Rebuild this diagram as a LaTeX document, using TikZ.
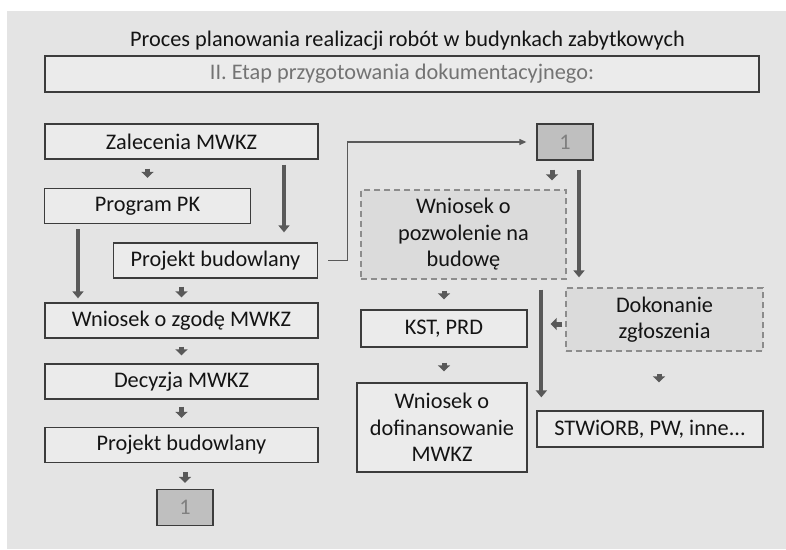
\documentclass[tikz,border=0pt]{standalone}
\usepackage{fontspec}
\setmainfont{Carlito}
\usetikzlibrary{arrows.meta,calc}
\definecolor{tlo}{HTML}{E4E4E4}
\definecolor{ramka}{HTML}{3C3C3C}
\definecolor{strzalka}{HTML}{595959}
\definecolor{przerywana}{HTML}{8C8C8C}
\begin{document}
\begin{tikzpicture}[x=1pt, y=-1pt,
    every node/.style={font=\fontsize{22.3}{26.5}\selectfont, text=black!92, align=center, inner sep=0pt},
    pole/.style={draw=ramka, line width=1.3pt, fill=tlo!75!white, minimum height=35pt},
    opcja/.style={draw=przerywana, dashed, dash pattern=on 6pt off 4pt, line width=1.3pt, fill=black!14},
    numer/.style={draw=ramka, line width=1.3pt, fill=black!25, text=black!50, minimum width=56pt, minimum height=36pt},
    krok/.style={strzalka, line width=5pt, -{Triangle[length=6pt,width=12pt]}, shorten <=8pt, shorten >=8pt},
    dluga/.style={strzalka, line width=4pt, -{Triangle[length=7pt,width=11pt]}},
    cienka/.style={strzalka, line width=1.2pt, -{Triangle[length=7pt,width=6pt]}}]
    \fill[white] (0,0) rectangle (786,549);
    \fill[tlo] (7,11) rectangle (786,549);
    \useasboundingbox (0,0) rectangle (786,549);
    \node[anchor=base] (tyt) at (407.5,46) {Proces planowania realizacji robót w budynkach zabytkowych};
    \node[pole, minimum width=714pt, minimum height=36pt, text=black!55] (etap) at (402,74) {II. Etap przygotowania dokumentacyjnego:};
    \node[pole, minimum width=273pt] (zal) at (181.5,141.5)          {Zalecenia MWKZ};
    \node[pole, minimum width=206pt] (prog) at ([shift={(-34,64.5)}] zal) {Program PK};
    \node[pole, minimum width=204pt] (pb1) at ([shift={(34,119)}] zal)   {Projekt budowlany};
    \node[pole, minimum width=273pt] (wzg) at ([shift={(0,179)}] zal)    {Wniosek o zgodę MWKZ};
    \node[pole, minimum width=273pt] (dec) at ([shift={(0,61)}] wzg)     {Decyzja MWKZ};
    \node[pole, minimum width=273pt] (pb2) at ([shift={(0,63.5)}] dec)   {Projekt budowlany};
    \node[numer] (jed1) at ([shift={(3.5,62.5)}] pb2) {1};
    \node[numer] (jed2) at (565,142) {1};
    \node[opcja, minimum width=205pt, minimum height=89pt] (wnp) at ([shift={(-101.5,92.5)}] jed2) {Wniosek o\\pozwolenie na\\budowę};
    \node[opcja, minimum width=197pt, minimum height=63pt] (dok) at ([shift={(99.5,177.5)}] jed2)  {Dokonanie\\zgłoszenia};
    \node[pole, minimum width=166pt, minimum height=37pt] (kst) at ([shift={(-19.5,94)}] wnp)      {KST, PRD};
    \node[pole, minimum width=170pt, minimum height=89pt] (wdf) at ([shift={(-2,99)}] kst)         {Wniosek o\\dofinansowanie\\MWKZ};
    \node[pole, minimum width=226pt, minimum height=36pt] (stw) at ([shift={(-14.5,109.5)}] dok)   {STWiORB, PW, inne...};
    \draw[krok, shorten <=9pt, shorten >=10pt] (prog.north |- zal.south) -- (prog.north);
    \draw[dluga, shorten <=5pt, shorten >=10pt] ([xshift=68.5pt]pb1.north |- zal.south) -- ([xshift=68.5pt]pb1.north);
    \draw[dluga, shorten <=5pt, shorten >=4pt] ([xshift=-69.5pt]prog.south) -- ([xshift=-69.5pt]prog.south |- wzg.north);
    \draw[krok, shorten >=5pt] (wzg.north |- pb1.south) -- (wzg.north);
    \draw[krok] (wzg.south) -- (dec.north);
    \draw[krok, shorten <=7pt, shorten >=9pt] (dec.south) -- (pb2.north);
    \draw[krok, shorten <=9pt, shorten >=6pt] (jed1.north |- pb2.south) -- (jed1.north);
    \draw[cienka, shorten <=10pt, shorten >=10pt] (pb1.east) -- ++(29,0) |- (jed2.west);
    \draw[krok, shorten <=9pt, shorten >=9pt] ([xshift=-13pt]jed2.south) -- ([xshift=-13pt]jed2.south |- wnp.north);
    \draw[dluga, shorten <=9pt, shorten >=10pt] ([xshift=14pt]jed2.south) -- ([xshift=14pt]jed2.south |- dok.north);
    \draw[krok, shorten <=11pt, shorten >=10pt] (kst.north |- wnp.south) -- (kst.north);
    \draw[dluga, shorten <=10pt, shorten >=13pt] ([xshift=5pt]stw.north west |- wnp.south) -- ([xshift=5pt]stw.north west);
    \draw[krok, shorten <=3pt, shorten >=23pt] ([yshift=-4.5pt]dok.west) -- ([yshift=-4.5pt]dok.west -| kst.east);
    \draw[krok, shorten <=15pt, shorten >=11pt] (kst.south) -- (kst.south |- wdf.north);
    \draw[krok, shorten <=22pt, shorten >=28pt] ([xshift=-5.5pt]dok.south) -- ([xshift=-5.5pt]dok.south |- stw.north);
\end{tikzpicture}
\end{document}
